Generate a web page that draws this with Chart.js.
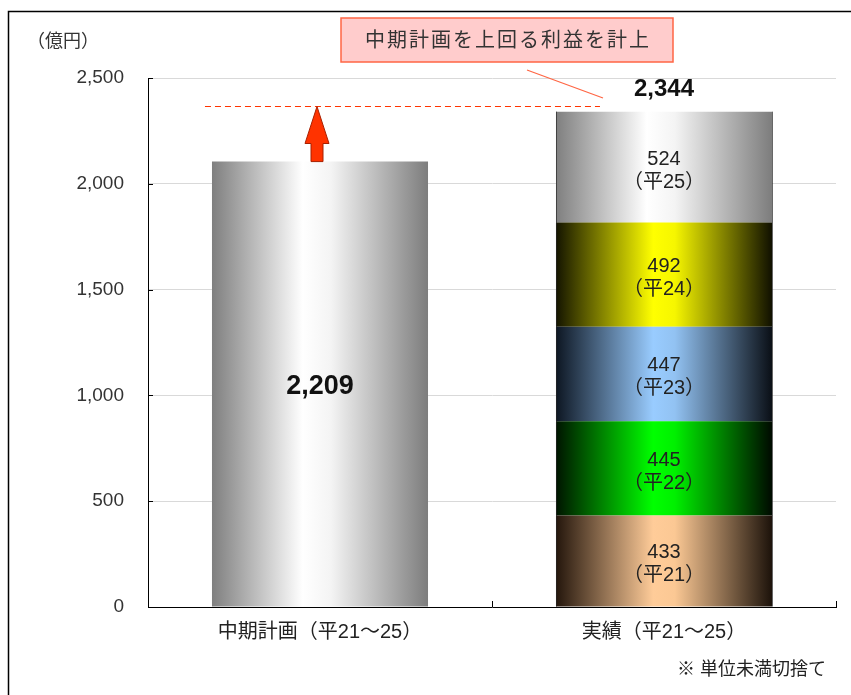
<!DOCTYPE html>
<html>
<head>
<meta charset="utf-8">
<script src="https://cdn.jsdelivr.net/npm/chart.js@4/dist/chart.umd.min.js"></script>
<style>
  html, body { margin: 0; padding: 0; background: #fff; }
  #wrap { width: 851px; height: 695px; }
</style>
</head>
<body>
<div id="wrap"><canvas id="chart" width="851" height="695"></canvas></div>
<script>
// données
const categories = ['中期計画（平21～25）', '実績（平21～25）'];
const planBar = [2105, null];          // hauteur dessinée de la barre du plan
const planLabel = '2,209';
const yearLabels = ['（平21）', '（平22）', '（平23）', '（平24）', '（平25）'];
const yearValues = [433, 445, 447, 492, 524];
const actualTotalLabel = '2,344';
const targetLine = 2368;
const yMax = 2500;
const yStep = 500;
const unitLabel = '（億円）';
const calloutText = '中期計画を上回る利益を計上';
const noteText = '※ 単位未満切捨て';

const FONT = '"Liberation Sans", "Noto Sans CJK JP", sans-serif';
const BAR_PCT = 0.628;

// dégradés horizontaux (effet cylindre)
const grayStops = [[0, '#7f7f7f'], [0.42, '#ffffff'], [0.55, '#f4f4f4'], [1, '#7d7d7d']];
const segmentStops = [
    [[0, '#24160c'], [0.45, '#ffcc99'], [0.55, '#fbc894'], [1, '#1c120a']],
    [[0, '#001400'], [0.45, '#00ff00'], [0.55, '#00f000'], [1, '#000a00']],
    [[0, '#0d1622'], [0.45, '#99ccff'], [0.55, '#92c2f2'], [1, '#0a0f16']],
    [[0, '#141400'], [0.45, '#ffff00'], [0.55, '#f6f600'], [1, '#101000']],
    grayStops
];

function gradient(stops) {
    return ctx => {
        const chart = ctx.chart;
        const xs = chart.scales && chart.scales.x;
        if (!chart.chartArea || !xs) return stops[1][1];
        const cx = xs.getPixelForValue(ctx.dataIndex);
        const half = (chart.chartArea.width / categories.length) * BAR_PCT / 2;
        const g = chart.ctx.createLinearGradient(cx - half, 0, cx + half, 0);
        stops.forEach(s => g.addColorStop(s[0], s[1]));
        return g;
    };
}

const datasets = [{
    label: 'plan',
    data: planBar,
    backgroundColor: gradient(grayStops),
    borderWidth: 0
}];
yearValues.forEach((v, i) => {
    datasets.push({
        label: yearLabels[i],
        data: [null, v],
        backgroundColor: gradient(segmentStops[i]),
        borderWidth: 0
    });
});

const decorPlugin = {
    id: 'decor',
    beforeDraw(chart) {
        const c = chart.ctx;
        c.save();
        c.strokeStyle = '#000';
        c.lineWidth = 1.5;
        c.strokeRect(8.5, 11.5, 1000, 1000);
        c.restore();
    },
    afterDatasetsDraw(chart) {
        const c = chart.ctx;
        const area = chart.chartArea;
        const ys = chart.scales.y;
        c.save();

        // petites graduations vers l'intérieur
        c.strokeStyle = '#000';
        c.lineWidth = 1;
        for (let v = yStep; v <= yMax; v += yStep) {
            const y = Math.round(ys.getPixelForValue(v)) + 0.5;
            c.beginPath(); c.moveTo(area.left, y); c.lineTo(area.left + 5, y); c.stroke();
        }
        [area.left + area.width / 2, area.right].forEach(x => {
            const px = Math.round(x) + 0.5;
            c.beginPath(); c.moveTo(px, area.bottom); c.lineTo(px, area.bottom - 6); c.stroke();
        });

        // liseré sombre de la barre empilée
        const firstEl = chart.getDatasetMeta(1).data[1];
        const lastEl = chart.getDatasetMeta(yearValues.length).data[1];
        c.strokeStyle = 'rgba(40,40,40,0.7)';
        [firstEl.x - firstEl.width / 2, firstEl.x + firstEl.width / 2].forEach(x => {
            const px = Math.round(x) + 0.5;
            c.beginPath(); c.moveTo(px, firstEl.base); c.lineTo(px, lastEl.y); c.stroke();
        });

        // libellé unité
        c.fillStyle = '#333';
        c.font = '18px ' + FONT;
        c.textAlign = 'left';
        c.textBaseline = 'middle';
        c.fillText(unitLabel, 27, 42);

        // barre plan
        const planEl = chart.getDatasetMeta(0).data[0];
        c.fillStyle = '#111';
        c.font = 'bold 27px ' + FONT;
        c.textAlign = 'center';
        c.fillText(planLabel, planEl.x, 387);

        // segments
        yearValues.forEach((v, i) => {
            const el = chart.getDatasetMeta(i + 1).data[1];
            const mid = (el.y + el.base) / 2 + 3;
            c.fillStyle = '#222';
            c.font = '20px ' + FONT;
            c.fillText(String(v), el.x, mid - 11);
            c.fillText(yearLabels[i], el.x, mid + 12);
        });

        // total
        c.fillStyle = '#111';
        c.font = 'bold 24px ' + FONT;
        c.fillText(actualTotalLabel, lastEl.x, lastEl.y - 22);

        // ligne pointillée objectif
        const ty = Math.round(ys.getPixelForValue(targetLine)) + 0.5;
        const half = planEl.width / 2;
        c.strokeStyle = '#ff3300';
        c.lineWidth = 1;
        c.setLineDash([6, 4]);
        c.beginPath();
        c.moveTo(planEl.x - half - 7, ty);
        c.lineTo(lastEl.x - half + 44, ty);
        c.stroke();
        c.setLineDash([]);

        // flèche
        const ax = planEl.x - 3;
        const baseY = planEl.y;
        const headY = ty + 37;
        c.beginPath();
        c.moveTo(ax, ty);
        c.lineTo(ax + 12, headY);
        c.lineTo(ax + 6, headY);
        c.lineTo(ax + 6, baseY);
        c.lineTo(ax - 6, baseY);
        c.lineTo(ax - 6, headY);
        c.lineTo(ax - 12, headY);
        c.closePath();
        c.fillStyle = '#ff3300';
        c.fill();
        c.strokeStyle = '#a82000';
        c.lineWidth = 1;
        c.stroke();

        // bulle
        c.fillStyle = '#ffcccc';
        c.fillRect(341, 18, 332, 44);
        c.strokeStyle = '#ff6644';
        c.lineWidth = 1.5;
        c.strokeRect(341, 18, 332, 44);
        c.fillStyle = '#333';
        c.font = '20px ' + FONT;
        c.letterSpacing = '2px';
        c.fillText(calloutText, 508, 41);
        c.letterSpacing = '0px';
        c.strokeStyle = '#ff6644';
        c.lineWidth = 1.2;
        c.beginPath(); c.moveTo(527, 70); c.lineTo(603, 98); c.stroke();

        // note
        c.fillStyle = '#222';
        c.font = '18px ' + FONT;
        c.textAlign = 'right';
        c.fillText(noteText, 826, 670);

        c.restore();
    }
};

new Chart(document.getElementById('chart').getContext('2d'), {
    type: 'bar',
    data: { labels: categories, datasets: datasets },
    options: {
        responsive: false,
        animation: false,
        layout: { padding: { top: 78, right: 15, left: 0, bottom: 0 } },
        datasets: { bar: { barPercentage: BAR_PCT, categoryPercentage: 1 } },
        plugins: { legend: { display: false }, tooltip: { enabled: false } },
        scales: {
            x: {
                stacked: true,
                grid: { display: false, drawTicks: false },
                border: { color: '#000', width: 1 },
                ticks: { color: '#222', font: { family: FONT, size: 20 }, padding: 13 },
                afterFit(scale) { scale.height = 88; }
            },
            y: {
                stacked: true,
                min: 0,
                max: yMax,
                ticks: {
                    stepSize: yStep,
                    color: '#333',
                    padding: 24,
                    font: { family: FONT, size: 19 },
                    callback: v => v.toLocaleString('en-US')
                },
                grid: {
                    drawTicks: false,
                    color: ctx => ctx.tick && ctx.tick.value === 0 ? 'rgba(0,0,0,0)' : '#d9d9d9'
                },
                border: { color: '#000', width: 1 },
                afterFit(scale) { scale.width = 148; }
            }
        }
    },
    plugins: [decorPlugin]
});
</script>
</body>
</html>
